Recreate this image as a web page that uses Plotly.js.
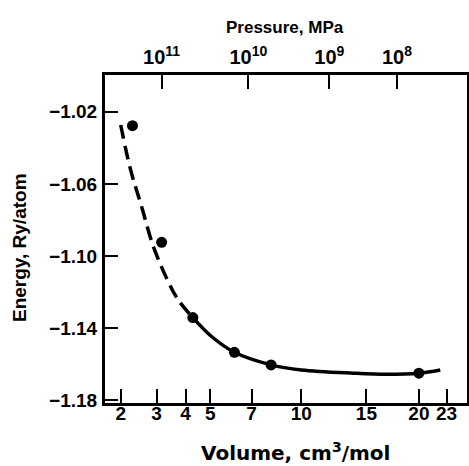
<!DOCTYPE html>
<html>
<head>
<meta charset="utf-8">
<script src="https://cdn.plot.ly/plotly-3.0.1.min.js"></script>
<style>
html,body{margin:0;padding:0;background:#fff;}
#chart{width:469px;height:466px;}
</style>
</head>
<body>
<div id="chart"></div>
<script>
// ---- data ----
// calculated points (volume cm^3/mol, energy Ry/atom)
const pointVolume = [2.3, 3.16, 4.28, 6.12, 8.1, 20.0];
const pointEnergy = [-1.0278, -1.0924, -1.1341, -1.1533, -1.1603, -1.1649];
// fitted curve, dashed (extrapolated) part
const dashVolume = [2.0, 2.24, 2.55, 2.9, 3.38, 3.73, 4.28];
const dashEnergy = [-1.0274, -1.0514, -1.0726, -1.0948, -1.1142, -1.1243, -1.1341];
// fitted curve, solid part
const solidVolume = [4.28, 5.07, 6.12, 8.1, 10.0, 13.9, 16.8, 20.0, 22.3];
const solidEnergy = [-1.1341, -1.1447, -1.1533, -1.1603, -1.1631, -1.1649, -1.1655, -1.1649, -1.1631];
// axis ticks
const volumeTicks = [2, 3, 4, 5, 7, 10, 15, 20, 23];
const energyTicks = [-1.02, -1.06, -1.10, -1.14, -1.18];
const pressureTickVolume = [3.16, 6.83, 12.0, 17.8];
const pressureExponents = ['11', '10', '9', '8'];
const volumeRange = [1.64, 25.4];
const energyRange = [-1.1814, -0.9997];

// the volume axis of the figure is a power scale; plotly gets transformed x
const P = 0.37;
const tx = v => Math.pow(v, P);

const FONT = 'Liberation Sans, Arial, Helvetica, sans-serif';
const pressureTickText = pressureExponents.map(e => '10<sup>' + e + '</sup>');

const traces = [
  {x: dashVolume.map(tx), y: dashEnergy, mode: 'lines', xaxis: 'x', yaxis: 'y',
   line: {color: '#000', width: 3.5, dash: '14px,7px', shape: 'spline'}, hoverinfo: 'skip'},
  {x: solidVolume.map(tx), y: solidEnergy, mode: 'lines', xaxis: 'x', yaxis: 'y',
   line: {color: '#000', width: 3.5, shape: 'spline'}, hoverinfo: 'skip'},
  {x: pointVolume.map(tx), y: pointEnergy, mode: 'markers', xaxis: 'x', yaxis: 'y',
   marker: {color: '#000', size: 11}},
  {x: pressureTickVolume.map(tx), y: pressureTickVolume.map(() => null), mode: 'markers',
   xaxis: 'x2', yaxis: 'y', showlegend: false, hoverinfo: 'skip', marker: {opacity: 0}}
];

const tickfont = {family: FONT, size: 19, color: '#000', weight: 'bold'};

const layout = {
  width: 469, height: 466,
  margin: {l: 105, r: 2, t: 75, b: 63, pad: 0},
  paper_bgcolor: '#fff', plot_bgcolor: '#fff',
  showlegend: false,
  xaxis: {
    range: volumeRange.map(tx),
    tickvals: volumeTicks.map(tx), ticktext: volumeTicks.map(String),
    ticks: 'inside', ticklen: 14, tickwidth: 2, tickcolor: '#000',
    showline: true, linecolor: '#000', linewidth: 3, mirror: true,
    showgrid: false, zeroline: false, tickfont: tickfont,
    ticklabelstandoff: -9
  },
  xaxis2: {
    overlaying: 'x', side: 'top', anchor: 'y',
    range: volumeRange.map(tx),
    tickvals: pressureTickVolume.map(tx), ticktext: pressureTickText,
    ticks: 'inside', ticklen: 14, tickwidth: 2, tickcolor: '#000',
    showline: false, showgrid: false, zeroline: false,
    tickfont: {family: FONT, size: 20, color: '#000', weight: 'bold'},
    ticklabelstandoff: 6
  },
  yaxis: {
    range: energyRange,
    tickvals: energyTicks, tickformat: '.2f',
    ticks: 'inside', ticklen: 13, tickwidth: 2, tickcolor: '#000',
    showline: true, linecolor: '#000', linewidth: 3, mirror: true,
    showgrid: false, zeroline: false, tickfont: tickfont,
    ticklabelstandoff: 1
  },
  annotations: [
    {text: 'Volume, cm<sup>3</sup>/mol', xref: 'paper', yref: 'paper', x: 0.5276, y: -0.148,
     xanchor: 'center', yanchor: 'middle', showarrow: false,
     font: {family: 'DejaVu Sans, sans-serif', size: 20, color: '#000', weight: 'bold'}},
    {text: 'Energy, Ry/atom', xref: 'paper', yref: 'paper', x: -0.2348, y: 0.4726,
     xanchor: 'center', yanchor: 'middle', showarrow: false, textangle: -90,
     font: {family: FONT, size: 19, color: '#000', weight: 'bold'}},
    {text: 'Pressure, MPa', xref: 'paper', yref: 'paper', x: 0.497, y: 1.145,
     xanchor: 'center', yanchor: 'middle', showarrow: false,
     font: {family: FONT, size: 17, color: '#000', weight: 'bold'}}
  ]
};

Plotly.newPlot('chart', traces, layout, {displayModeBar: false, staticPlot: true});
</script>
</body>
</html>
